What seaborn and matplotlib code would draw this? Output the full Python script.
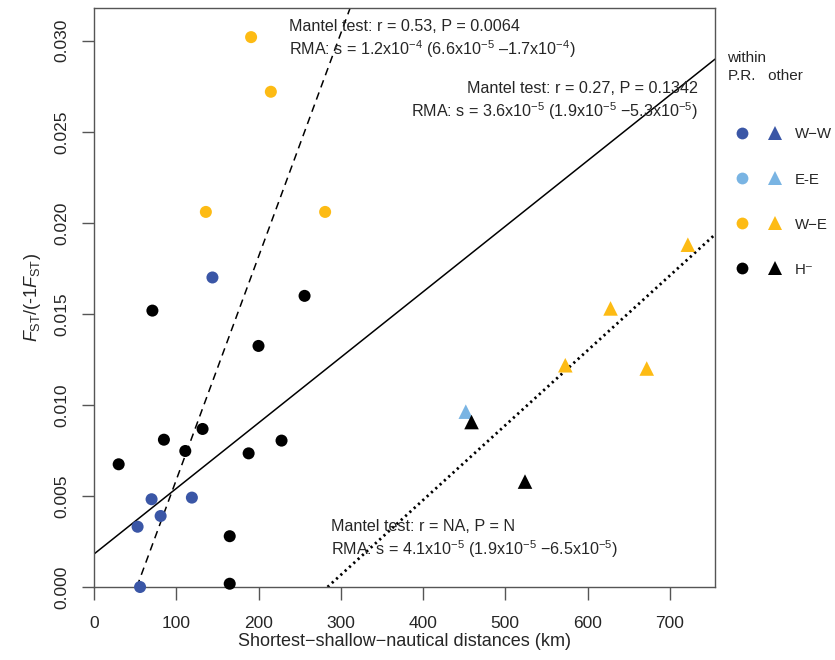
import pandas as pd
import matplotlib
matplotlib.use("Agg")
import matplotlib.pyplot as plt
from matplotlib.lines import Line2D
from matplotlib.legend_handler import HandlerTuple
import seaborn as sns

# style: plain white, R-like base graphics look
sns.set_theme(style="white")
plt.rcParams['font.family'] = ['Liberation Sans', 'DejaVu Sans']
plt.rcParams['mathtext.fontset'] = 'custom'
plt.rcParams['mathtext.rm'] = 'Liberation Sans'
plt.rcParams['mathtext.it'] = 'Liberation Sans:italic'
plt.rcParams['mathtext.default'] = 'regular'

# ---- data ----
# pairs of sites within the same P.R. (circles)
ww_x = [144, 70, 81, 53, 119, 56]
ww_y = [0.0170, 0.00482, 0.0039, 0.00331, 0.00491, 0.0]
we_x = [191, 215, 136, 281]
we_y = [0.0302, 0.0272, 0.0206, 0.0206]
h_x = [71, 256, 200, 132, 85, 30, 111, 188, 228, 165, 165]
h_y = [0.01518, 0.01599, 0.01324, 0.00868, 0.00809, 0.00674,
       0.00747, 0.00734, 0.00804, 0.00279, 0.00018]

# pairs of sites in different P.R. (triangles)
o_ee_x = [452]
o_ee_y = [0.00963]
o_h_x = [459, 524]
o_h_y = [0.00906, 0.00579]
o_we_x = [722, 628, 573, 672]
o_we_y = [0.0188, 0.0153, 0.01218, 0.0120]

# RMA fits: intercept, slope
fit_names = ['within', 'all', 'other']
fit_intercept = [-0.00638, 0.00181, -0.01167]
fit_slope = [1.226e-4, 3.60e-5, 4.11e-5]

pair_labels = ['W\u2212W', 'E-E', 'W\u2212E', 'H\u207b']
pair_colors = ['#3a56a6', '#79b4e3', '#fdbb14', '#000000']

# build one long table for seaborn
rows = []
for xs, ys, pair, kind in [(ww_x, ww_y, 'W\u2212W', 'within'),
                           (we_x, we_y, 'W\u2212E', 'within'),
                           (h_x, h_y, 'H\u207b', 'within'),
                           (o_ee_x, o_ee_y, 'E-E', 'other'),
                           (o_h_x, o_h_y, 'H\u207b', 'other'),
                           (o_we_x, o_we_y, 'W\u2212E', 'other')]:
    for xv, yv in zip(xs, ys):
        rows.append({'dist': xv, 'fst': yv, 'pair': pair, 'kind': kind})
df = pd.DataFrame(rows)

palette = dict(zip(pair_labels, pair_colors))

fig = plt.figure(figsize=(8.35, 6.6), dpi=100)
ax = fig.add_axes([94 / 835, 1 - 587 / 660, 621 / 835, 579 / 660])

# regression lines
styles = {'within': dict(linestyle=(0, (5, 3.5)), linewidth=1.1),
          'all': dict(linestyle='-', linewidth=1.1),
          'other': dict(linestyle=(0, (0.8, 1.3)), linewidth=2.0)}
for name, a, b in zip(fit_names, fit_intercept, fit_slope):
    ax.axline((0, a), slope=b, color='black', **styles[name], zorder=1)

sns.scatterplot(data=df, x='dist', y='fst', hue='pair', style='kind',
                size='kind', sizes={'within': 75, 'other': 110},
                markers={'within': 'o', 'other': '^'}, palette=palette,
                linewidth=0, legend=False, clip_on=False, zorder=3, ax=ax)

ax.set_xlim(0, 755)
ax.set_ylim(0, 0.0318)
ax.set_xticks(range(0, 701, 100))
ax.set_yticks([0, 0.005, 0.010, 0.015, 0.020, 0.025, 0.030])
ax.set_yticklabels(['0.000', '0.005', '0.010', '0.015', '0.020', '0.025', '0.030'])
plt.setp(ax.get_yticklabels(), rotation=90, va='center')

for sp in ax.spines.values():
    sp.set_color('#555555')
    sp.set_linewidth(1.0)
ax.tick_params(axis='both', which='major', direction='out', length=9, width=1,
               color='#555555', labelsize=12.5, left=True, bottom=True)
ax.tick_params(axis='x', pad=12)
ax.tick_params(axis='y', pad=9)

ax.set_xlabel('Shortest\u2212shallow\u2212nautical distances (km)', fontsize=13, labelpad=1)
ax.set_ylabel(r'$\mathit{F}_{\mathrm{ST}}$/(-1$\mathit{F}_{\mathrm{ST}}$)', fontsize=13, labelpad=8)

# annotations
tfs = 11.6
ax.text(0.314, 0.968, 'Mantel test: r = 0.53, P = 0.0064', transform=ax.transAxes,
        fontsize=tfs, ha='left', va='center')
ax.text(0.314, 0.929, 'RMA: s = 1.2x10$^{-4}$ (6.6x10$^{-5}$ \u20131.7x10$^{-4}$)',
        transform=ax.transAxes, fontsize=tfs, ha='left', va='center')
ax.text(0.973, 0.861, 'Mantel test: r = 0.27, P = 0.1342', transform=ax.transAxes,
        fontsize=tfs, ha='right', va='center')
ax.text(0.973, 0.822, 'RMA: s = 3.6x10$^{-5}$ (1.9x10$^{-5}$ \u22125.3x10$^{-5}$)',
        transform=ax.transAxes, fontsize=tfs, ha='right', va='center')
ax.text(0.382, 0.104, 'Mantel test: r = NA, P = N', transform=ax.transAxes,
        fontsize=tfs, ha='left', va='center')
ax.text(0.382, 0.066, 'RMA: s = 4.1x10$^{-5}$ (1.9x10$^{-5}$ \u22126.5x10$^{-5}$)',
        transform=ax.transAxes, fontsize=tfs, ha='left', va='center')

# legend header
fig.text(727 / 835, 1 - 58 / 660, 'within', fontsize=11, ha='left', va='center')
fig.text(728 / 835, 1 - 76 / 660, 'P.R.   other', fontsize=11, ha='left', va='center')

# legend: one row per pair type, circle = within P.R., triangle = other
handles = []
for lab, col in zip(pair_labels, pair_colors):
    c = Line2D([], [], marker='o', linestyle='', color=col, markersize=8.5, markeredgewidth=0)
    t = Line2D([], [], marker='^', linestyle='', color=col, markersize=10, markeredgewidth=0)
    handles.append((c, t))
leg = fig.legend(handles, pair_labels, handler_map={tuple: HandlerTuple(ndivide=None, pad=0)},
                 fontsize=10.8, loc='upper left', bbox_to_anchor=(718 / 835, 1 - 120 / 660),
                 frameon=False, borderpad=0, handlelength=4.4, handletextpad=0.25,
                 labelspacing=2.07, alignment='left')

fig.savefig('out.png', dpi=100)
